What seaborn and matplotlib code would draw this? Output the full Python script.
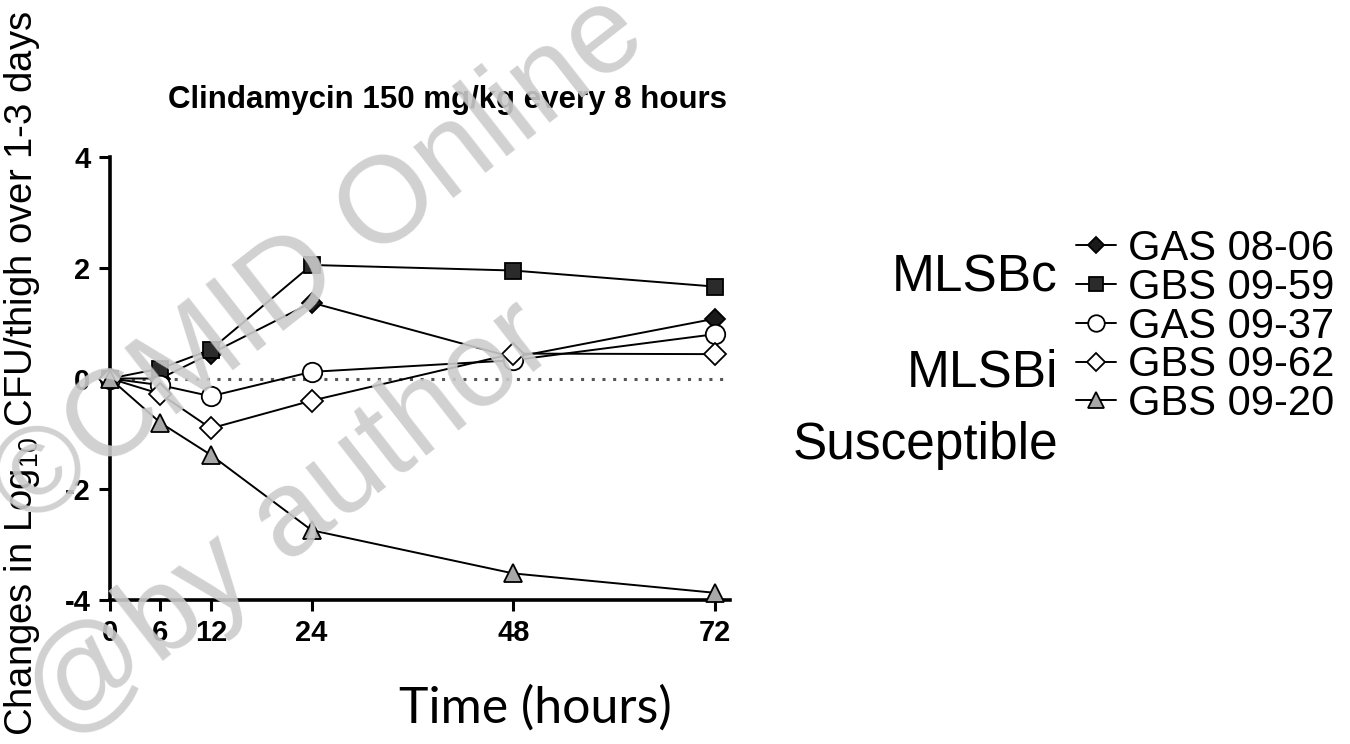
import matplotlib
matplotlib.use("Agg")
import matplotlib.pyplot as plt
import pandas as pd
import seaborn as sns

# Time points (hours) and change in log10 CFU/thigh for each strain
hours = [0, 6, 12, 24, 48, 72]
strains = ["GAS 08-06", "GBS 09-59", "GAS 09-37", "GBS 09-62", "GBS 09-20"]
gas_08_06 = [0.0, 0.00, 0.45, 1.37, 0.38, 1.08]
gbs_09_59 = [0.0, 0.18, 0.52, 2.05, 1.95, 1.66]
gas_09_37 = [0.0, -0.12, -0.32, 0.12, 0.33, 0.80]
gbs_09_62 = [0.0, -0.28, -0.90, -0.40, 0.45, 0.44]
gbs_09_20 = [0.0, -0.80, -1.38, -2.74, -3.52, -3.87]
groups = ["MLSBc", "MLSBi", "Susceptible"]
x_ticks = [0, 6, 12, 24, 48, 72]
y_ticks = [-4, -2, 0, 2, 4]

series = [gas_08_06, gbs_09_59, gas_09_37, gbs_09_62, gbs_09_20]
df = pd.DataFrame({
    "hours": hours * len(strains),
    "change": [v for s in series for v in s],
    "strain": [name for name in strains for _ in hours],
})

sns.set_style("ticks")
plt.rcParams["font.family"] = ["Liberation Sans", "DejaVu Sans"]
plt.rcParams["mathtext.fontset"] = "custom"
plt.rcParams["mathtext.rm"] = "Liberation Sans"
plt.rcParams["mathtext.it"] = "Liberation Sans"
plt.rcParams["axes.unicode_minus"] = False
plt.rcParams["text.color"] = "black"

fig = plt.figure(figsize=(13.5, 7.44), dpi=100)
fig.patch.set_facecolor("white")
ax = fig.add_axes([110 / 1350, 144 / 744, 620 / 1350, 443 / 744])

# marker, face colour, size for each strain
styles = {
    "GAS 08-06": ("D", "#1a1a1a", 10),
    "GBS 09-59": ("s", "#2b2b2b", 12),
    "GAS 09-37": ("o", "white", 14),
    "GBS 09-62": ("D", "white", 11),
    "GBS 09-20": ("^", "#a8a8a8", 13),
}

# reference line at zero change
ax.axhline(0, color="#555555", lw=2.2, ls=(0, (1, 2.5)), zorder=1)

for name in strains:
    marker, face, size = styles[name]
    sub = df[df["strain"] == name]
    sns.lineplot(data=sub, x="hours", y="change", ax=ax, color="black",
                 lw=1.4, marker=marker, markersize=size,
                 markerfacecolor=face, markeredgecolor="black",
                 markeredgewidth=1.3, label=name, clip_on=False,
                 legend=False, zorder=3)

ax.set_xlim(0, 73.8)
ax.set_ylim(-4, 4)
ax.set_xticks(x_ticks)
ax.set_yticks(y_ticks)
ax.set_xlabel("")
ax.set_ylabel("")
sns.despine(ax=ax)
for side in ("left", "bottom"):
    ax.spines[side].set_linewidth(2.6)
    ax.spines[side].set_color("black")
ax.tick_params(axis="both", direction="out", length=8, width=2.2,
               labelsize=21, colors="black", pad=6)
for lab in ax.get_xticklabels() + ax.get_yticklabels():
    lab.set_fontweight("bold")

fig.text(447 / 1350, 1 - 100 / 744, "Clindamycin 150 mg/kg every 8 hours",
         ha="center", va="center", fontsize=22.5, fontweight="bold")
fig.text(22 / 1350, 1 - 374 / 744,
         "Changes in Log$_{10}$ CFU/thigh over 1-3 days",
         rotation=90, ha="center", va="center", fontsize=27.5)
fig.text(535 / 1350, 1 - 708 / 744, "Time (hours)", ha="center",
         va="center", fontsize=36, family=["Lato", "DejaVu Sans"])

# group labels beside the legend
group_y = [278, 373, 446]
for g, yy in zip(groups, group_y):
    fig.text(1058 / 1350, 1 - yy / 744, g, ha="right", va="center",
             fontsize=37)

handles, labels = ax.get_legend_handles_labels()
fig.legend(handles, labels, loc="upper left",
           bbox_to_anchor=(1076 / 1350, 1 - 229 / 744),
           bbox_transform=fig.transFigure, frameon=False, fontsize=30,
           handlelength=0.95, handletextpad=0.3, labelspacing=-0.03,
           borderpad=0, borderaxespad=0, markerscale=0.85)

# watermark
wm = dict(color="#cccccc", alpha=0.9, fontsize=88, rotation=38,
          rotation_mode="anchor", ha="center", va="center", zorder=10)
fig.text(320 / 1350, 1 - 262 / 744, "\u00a9CMID Online", **wm)
fig.text(290 / 1350, 1 - 522 / 744, "@by author", **wm)

fig.savefig("out.png", dpi=100, facecolor="white")
